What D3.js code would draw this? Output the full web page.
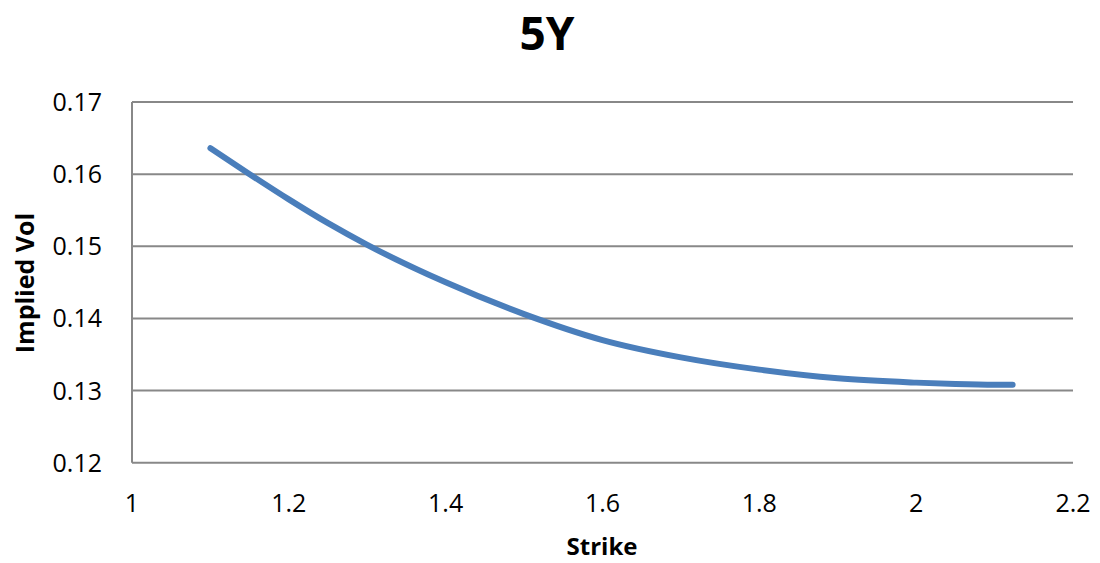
<!DOCTYPE html>
<html>
<head>
<meta charset="utf-8">
<script src="https://cdn.jsdelivr.net/npm/d3@7"></script>
<style>
  html, body { margin: 0; padding: 0; background: #fff; }
  svg { display: block; font-family: "Open Sans", "Noto Sans", sans-serif; }
</style>
</head>
<body>
<svg id="chart" width="1100" height="563"></svg>
<script>
const chartTitle = "5Y";
const xAxisTitle = "Strike";
const yAxisTitle = "Implied Vol";
const strikes = [1.1, 1.15, 1.2, 1.25, 1.3, 1.4, 1.5, 1.6, 1.7, 1.8, 1.9, 2.0, 2.05, 2.1, 2.123];
const impliedVol = [0.1636, 0.1600, 0.1565, 0.1532, 0.1502, 0.1450, 0.1406, 0.1370, 0.1346, 0.1329, 0.1317, 0.1311, 0.1309, 0.1308, 0.1308];
const xTicks = [1, 1.2, 1.4, 1.6, 1.8, 2, 2.2];
const yTicks = [0.12, 0.13, 0.14, 0.15, 0.16, 0.17];

(function () {
const svg = d3.select("#chart");
const pLeft = 132, pRight = 1073, pTop = 102, pBottom = 462.7;

const x = d3.scaleLinear().domain([1, 2.2]).range([pLeft, pRight]);
const y = d3.scaleLinear().domain([0.12, 0.17]).range([pBottom, pTop]);

// gridlines
svg.append("g").selectAll("line").data(yTicks).join("line")
  .attr("x1", pLeft).attr("x2", pRight)
  .attr("y1", d => y(d)).attr("y2", d => y(d))
  .attr("stroke", "#888888").attr("stroke-width", 2);

// left axis line
svg.append("line")
  .attr("x1", pLeft).attr("x2", pLeft).attr("y1", pTop).attr("y2", pBottom)
  .attr("stroke", "#888888").attr("stroke-width", 2);

// y tick labels
svg.append("g").selectAll("text").data(yTicks).join("text")
  .attr("x", pLeft - 30).attr("y", d => y(d))
  .attr("dy", "0.36em")
  .attr("text-anchor", "end")
  .attr("font-size", 25).attr("fill", "#000")
  .text(d => d3.format(".2f")(d));

// x tick labels
svg.append("g").selectAll("text").data(xTicks).join("text")
  .attr("x", d => x(d)).attr("y", 512)
  .attr("text-anchor", "middle")
  .attr("font-size", 25).attr("fill", "#000")
  .text(d => String(d));

// series line
const line = d3.line()
  .x((d, i) => x(strikes[i]))
  .y(d => y(d))
  .curve(d3.curveMonotoneX);

svg.append("path")
  .datum(impliedVol)
  .attr("d", line)
  .attr("fill", "none")
  .attr("stroke", "#4a7ebb")
  .attr("stroke-width", 6)
  .attr("stroke-linecap", "round")
  .attr("stroke-linejoin", "round");

// title
svg.append("text")
  .attr("x", 547).attr("y", 50)
  .attr("text-anchor", "middle")
  .attr("font-size", 46).attr("font-weight", "bold")
  .text(chartTitle);

// x axis title
svg.append("text")
  .attr("x", 602).attr("y", 555)
  .attr("text-anchor", "middle")
  .attr("font-size", 24).attr("font-weight", "bold")
  .text(xAxisTitle);

// y axis title
svg.append("text")
  .attr("transform", "translate(34,283) rotate(-90)")
  .attr("text-anchor", "middle")
  .attr("font-size", 25).attr("font-weight", "bold")
  .text(yAxisTitle);
})();
</script>
</body>
</html>
